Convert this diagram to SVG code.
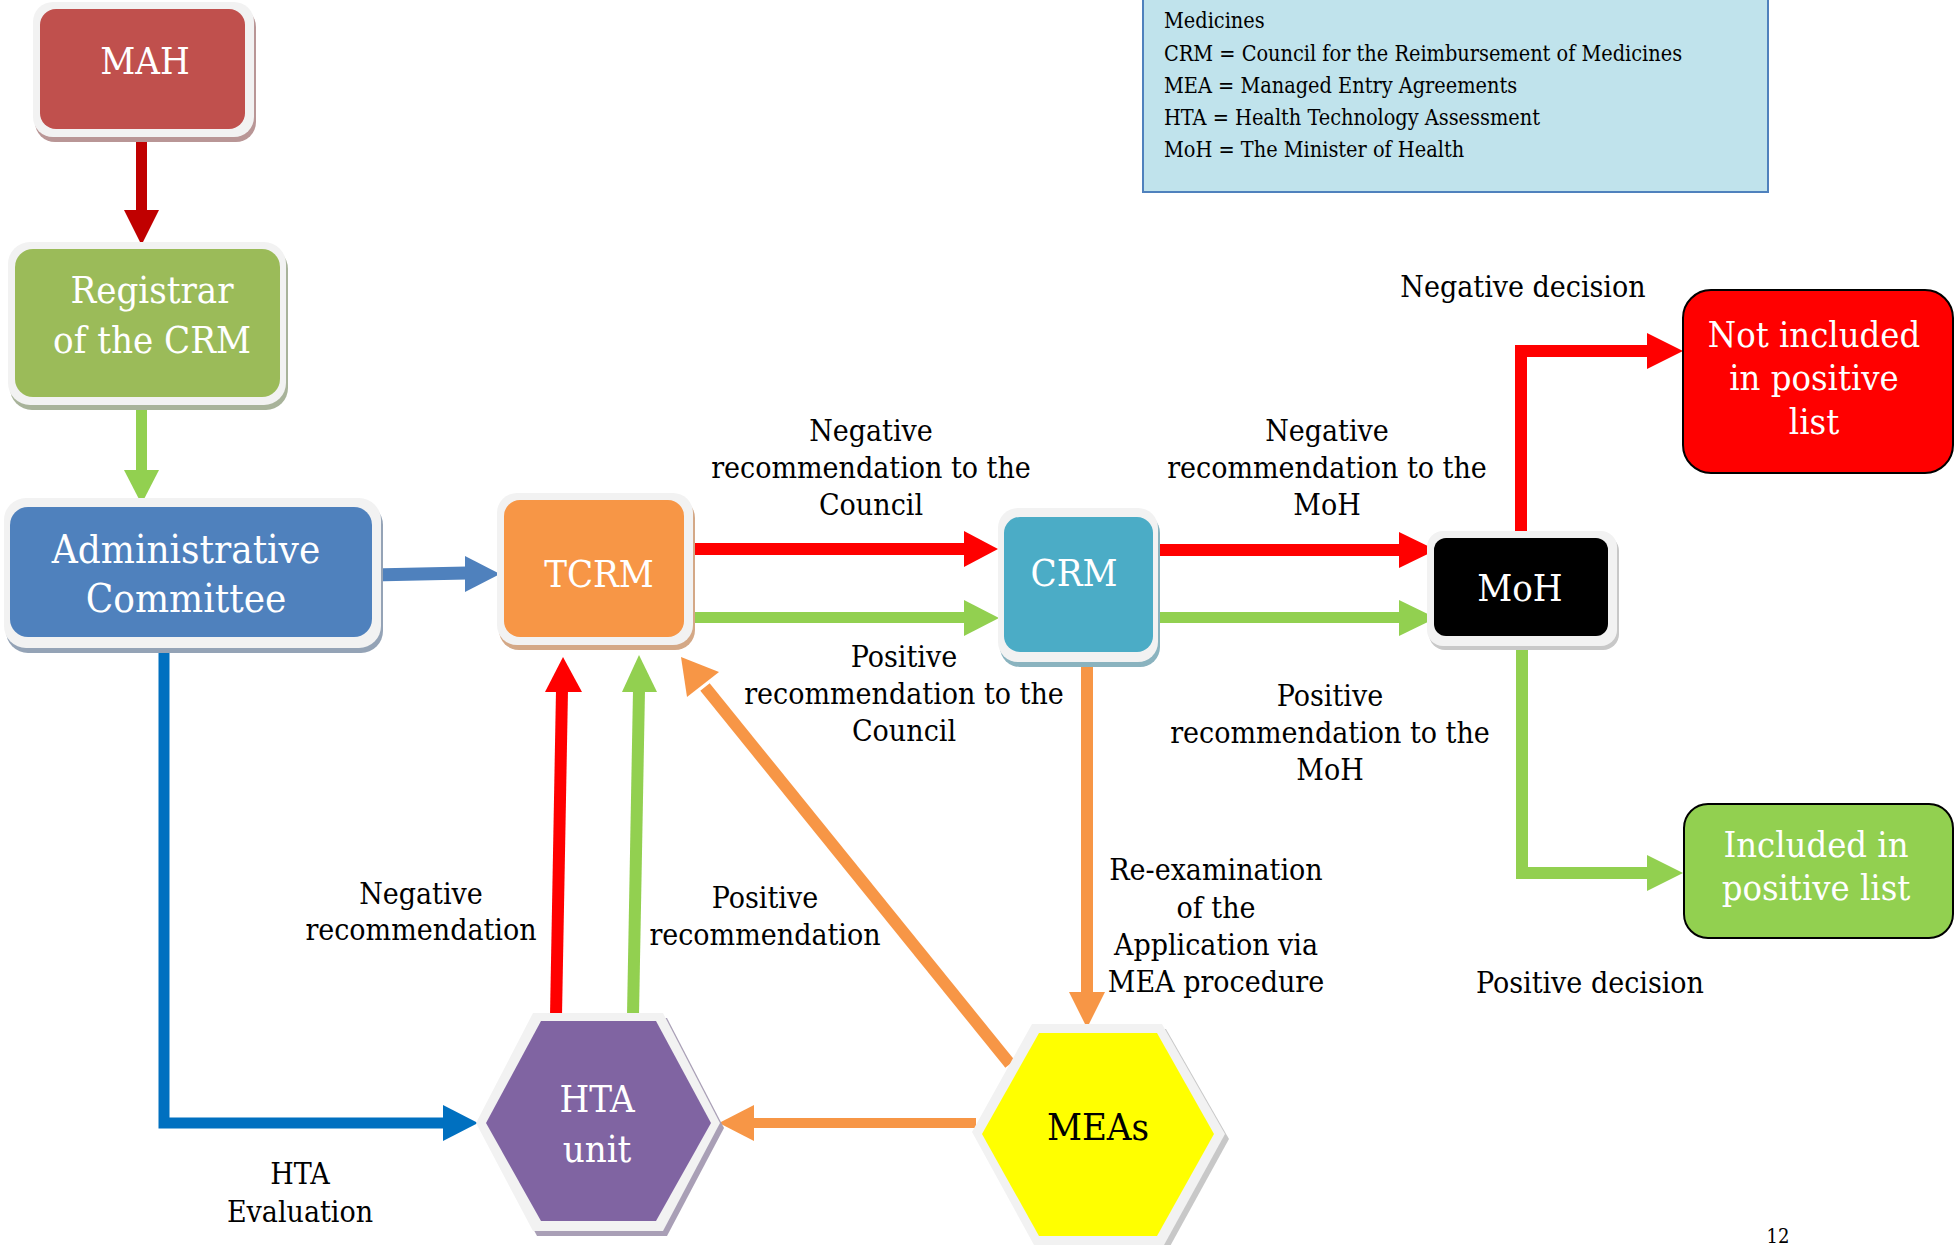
<svg xmlns="http://www.w3.org/2000/svg" width="1955" height="1245" viewBox="0 0 1955 1245">
<style>
text{font-family:"DejaVu Serif Condensed","DejaVu Serif","Liberation Serif",serif;}
.lbl{font-size:30px;fill:#000;text-anchor:middle;}
.nd{font-size:38px;fill:#fff;text-anchor:middle;}
.lg{font-size:21.5px;fill:#000;}
.rim{fill:#f2f2f2;}
</style>
<rect x="0" y="0" width="1955" height="1245" fill="#fff"/>

<g id="legend">
<rect x="1143" y="-4" width="625" height="196" fill="#c0e3ec" stroke="#4f81bd" stroke-width="2"/>
<text class="lg" x="1164" y="28">Medicines</text>
<text class="lg" x="1164" y="61">CRM = Council for the Reimbursement of Medicines</text>
<text class="lg" x="1164" y="93">MEA = Managed Entry Agreements</text>
<text class="lg" x="1164" y="125">HTA = Health Technology Assessment</text>
<text class="lg" x="1164" y="157">MoH = The Minister of Health</text>
</g>

<g id="connectors">
<!-- MAH -> Registrar -->
<rect x="136" y="133" width="11" height="78" fill="#c00000"/>
<polygon points="124,210 159,210 141.5,245" fill="#c00000"/>
<!-- Registrar -> Admin -->
<rect x="136" y="391" width="11" height="80" fill="#92d050"/>
<polygon points="124,470 159,470 141.5,504" fill="#92d050"/>
<!-- Admin -> TCRM -->
<line x1="372" y1="575" x2="467" y2="573" stroke="#4f81bd" stroke-width="13"/>
<polygon points="465,556 465,592 500,574" fill="#4f81bd"/>
<!-- TCRM -> CRM -->
<rect x="684" y="543" width="281" height="12" fill="#ff0000"/>
<polygon points="964,531 964,567 998,549" fill="#ff0000"/>
<rect x="684" y="612" width="281" height="11" fill="#92d050"/>
<polygon points="964,600 964,636 999,618" fill="#92d050"/>
<!-- CRM -> MoH -->
<rect x="1153" y="544" width="247" height="12" fill="#ff0000"/>
<polygon points="1399,532 1399,568 1436,550" fill="#ff0000"/>
<rect x="1153" y="612" width="247" height="11" fill="#92d050"/>
<polygon points="1399,600 1399,636 1436,618" fill="#92d050"/>
<!-- MoH -> Not included -->
<polyline points="1521,535 1521,351 1648,351" fill="none" stroke="#ff0000" stroke-width="12"/>
<polygon points="1647,333 1647,369 1683,351" fill="#ff0000"/>
<!-- MoH -> Included -->
<polyline points="1522,642 1522,873 1648,873" fill="none" stroke="#92d050" stroke-width="12"/>
<polygon points="1647,855 1647,891 1683,873" fill="#92d050"/>
<!-- Admin -> HTA -->
<polyline points="164,642 164,1123 444,1123" fill="none" stroke="#0070c0" stroke-width="11"/>
<polygon points="443,1105 443,1141 478,1123" fill="#0070c0"/>
<!-- HTA -> TCRM -->
<line x1="556" y1="1016" x2="562" y2="690" stroke="#ff0000" stroke-width="12"/>
<polygon points="545,692 582,692 563,657" fill="#ff0000"/>
<line x1="633" y1="1015" x2="639" y2="690" stroke="#92d050" stroke-width="12"/>
<polygon points="622,692 657,692 639,655" fill="#92d050"/>
<!-- MEAs -> TCRM -->
<line x1="1010" y1="1064" x2="705" y2="687" stroke="#f79646" stroke-width="12"/>
<polygon points="719,672 687,697 681,657" fill="#f79646"/>
<!-- MEAs -> HTA -->
<rect x="753" y="1118" width="223" height="10" fill="#f79646"/>
<polygon points="754,1105 754,1141 719,1123" fill="#f79646"/>
<!-- CRM -> MEAs -->
<rect x="1081" y="661" width="12" height="332" fill="#f79646"/>
<polygon points="1069,992 1105,992 1087,1028" fill="#f79646"/>
</g>

<g id="mah">
<rect x="35" y="7" width="221" height="135" rx="20" fill="#b99696"/>
<rect class="rim" x="33" y="2" width="221" height="135" rx="20"/>
<rect x="40" y="9" width="205" height="120" rx="16" fill="#c0504d"/>
<text class="nd" x="145" y="74">MAH</text>
</g>

<g id="registrar">
<rect x="10" y="247" width="278" height="163" rx="22" fill="#a8b39a"/>
<rect class="rim" x="8" y="242" width="278" height="163" rx="22"/>
<rect x="15" y="249" width="265" height="148" rx="18" fill="#9bbb59"/>
<text class="nd" x="152" y="303">Registrar</text>
<text class="nd" x="152" y="353">of the CRM</text>
</g>

<g id="admin">
<rect x="6" y="503" width="377" height="150" rx="22" fill="#94a3b6"/>
<rect class="rim" x="4" y="498" width="377" height="150" rx="22"/>
<rect x="10" y="507" width="362" height="130" rx="18" fill="#4f81bd"/>
<text class="nd" x="186" y="563" style="font-size:40px">Administrative</text>
<text class="nd" x="186" y="612" style="font-size:40px">Committee</text>
</g>

<g id="tcrm">
<rect x="499" y="498" width="196" height="152" rx="20" fill="#d4a886"/>
<rect class="rim" x="497" y="493" width="196" height="152" rx="20"/>
<rect x="504" y="500" width="180" height="137" rx="16" fill="#f79646"/>
<text class="nd" x="599" y="587">TCRM</text>
</g>

<g id="crm">
<rect x="1000" y="513" width="160" height="154" rx="20" fill="#8ab3bf"/>
<rect class="rim" x="998" y="508" width="160" height="154" rx="20"/>
<rect x="1004" y="517" width="149" height="135" rx="16" fill="#4bacc6"/>
<text class="nd" x="1074" y="586">CRM</text>
</g>

<g id="moh">
<rect x="1429" y="535" width="190" height="115" rx="16" fill="#c8c8c8"/>
<rect class="rim" x="1427" y="531" width="190" height="115" rx="16"/>
<rect x="1434" y="538" width="174" height="98" rx="12" fill="#000"/>
<text class="nd" x="1520" y="601">MoH</text>
</g>

<g id="not-included">
<rect x="1683" y="290" width="270" height="183" rx="28" fill="#ff0000" stroke="#000" stroke-width="2"/>
<text class="nd" x="1814" y="347" style="font-size:36px">Not included</text>
<text class="nd" x="1814" y="390" style="font-size:36px">in positive</text>
<text class="nd" x="1814" y="434" style="font-size:36px">list</text>
</g>

<g id="included">
<rect x="1684" y="804" width="269" height="134" rx="24" fill="#92d050" stroke="#000" stroke-width="2"/>
<text class="nd" x="1816" y="857" style="font-size:36px">Included in</text>
<text class="nd" x="1816" y="900" style="font-size:36px">positive list</text>
</g>

<g id="hta">
<polygon points="537,1018 667,1018 724,1128 667,1236 537,1236 480,1128" fill="#a99fb6"/>
<polygon class="rim" points="533,1013 663,1013 720,1123 663,1231 533,1231 476,1123"/>
<polygon points="541,1021 656,1021 711,1123 656,1221 541,1221 486,1123" fill="#8064a2"/>
<text class="nd" x="597" y="1112">HTA</text>
<text class="nd" x="597" y="1162">unit</text>
</g>

<g id="meas">
<polygon points="1036,1029 1166,1029 1229,1139 1168,1250 1038,1250 976,1137" fill="#c8c8c8"/>
<polygon class="rim" points="1032,1024 1162,1024 1225,1134 1164,1245 1034,1245 972,1132"/>
<polygon points="1039,1033 1157,1033 1214,1134 1157,1236 1039,1236 982,1134" fill="#ffff00"/>
<text class="nd" x="1098" y="1140" style="fill:#000">MEAs</text>
</g>

<g id="labels">
<text class="lbl" x="871" y="441">Negative</text>
<text class="lbl" x="871" y="478">recommendation to the</text>
<text class="lbl" x="871" y="515">Council</text>
<text class="lbl" x="1327" y="441">Negative</text>
<text class="lbl" x="1327" y="478">recommendation to the</text>
<text class="lbl" x="1327" y="515">MoH</text>
<text class="lbl" x="904" y="667">Positive</text>
<text class="lbl" x="904" y="704">recommendation to the</text>
<text class="lbl" x="904" y="741">Council</text>
<text class="lbl" x="1330" y="706">Positive</text>
<text class="lbl" x="1330" y="743">recommendation to the</text>
<text class="lbl" x="1330" y="780">MoH</text>
<text class="lbl" x="1523" y="297">Negative decision</text>
<text class="lbl" x="1590" y="993">Positive decision</text>
<text class="lbl" x="1216" y="880">Re-examination</text>
<text class="lbl" x="1216" y="918">of the</text>
<text class="lbl" x="1216" y="955">Application via</text>
<text class="lbl" x="1216" y="992">MEA procedure</text>
<text class="lbl" x="421" y="904">Negative</text>
<text class="lbl" x="421" y="940">recommendation</text>
<text class="lbl" x="765" y="908">Positive</text>
<text class="lbl" x="765" y="945">recommendation</text>
<text class="lbl" x="300" y="1184">HTA</text>
<text class="lbl" x="300" y="1222">Evaluation</text>
<text class="lbl" x="1778" y="1243" style="font-size:20px">12</text>
</g>
</svg>
